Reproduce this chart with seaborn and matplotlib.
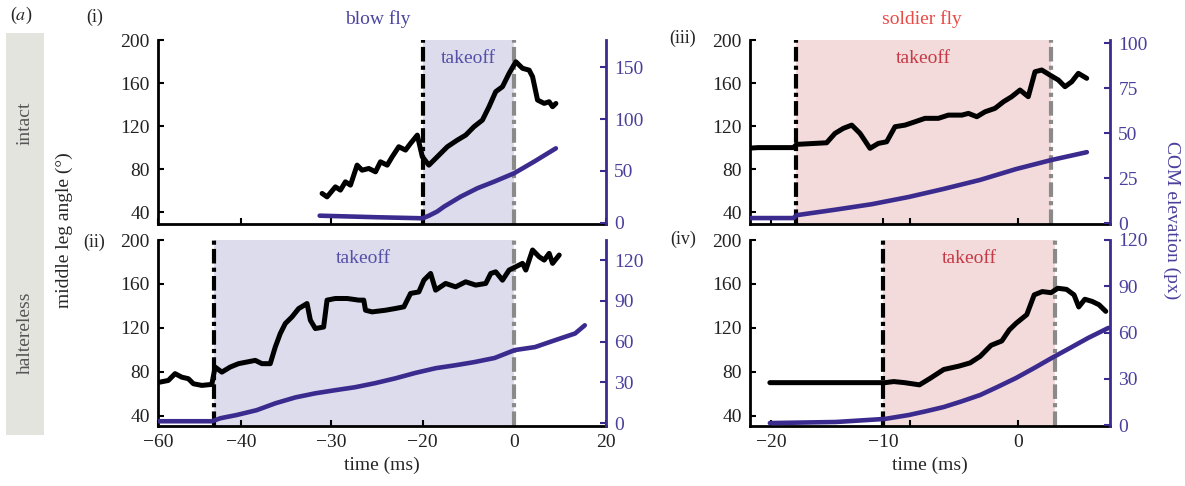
import numpy as np
import seaborn as sns
import matplotlib.pyplot as plt

# (i) blow fly, intact
t_i_angle = [-31.03, -30.48, -29.56, -29.01, -28.46, -27.91, -27.18, -26.63, -25.90, -25.16,
             -24.62, -23.88, -23.33, -22.61, -21.87, -21.32, -20.58, -20.03, -18.62, -16.77,
             -14.57, -12.37, -10.55, -8.73, -6.88, -5.43, -3.96, -2.48, -1.03, 0.43, 1.89,
             3.33, 4.07, 5.15, 6.59, 7.67, 8.41, 9.13]
angle_i = [57.4, 54.2, 63.5, 60.5, 68.2, 65.1, 83.7, 79, 80.6, 77.5, 86.8, 83.7, 91.5, 100.8,
           97.7, 103.9, 111.6, 91.5, 83.7, 91.5, 100.8, 107, 111.6, 119.4, 125.6, 138, 152,
           156.6, 169, 179.8, 173.7, 172, 165.9, 144.2, 141.1, 142.6, 138, 141]
t_i_com = [-31.3, -25.0, -20.0, -18.6, -16.8, -15.3, -11.65, -7.98, -4.33, 0.07, 4.41, 9.13]
com_i = [7, 5.5, 4.5, 7, 11, 15.7, 25.3, 33.4, 39.7, 47.8, 59, 71.8]

# (ii) blow fly, haltereless
t_ii_angle = [-60.0, -59.52, -57.52, -55.9, -54.29, -52.7, -51.49, -49.47, -47.06, -46.27,
              -44.65, -42.65, -40.65, -39.37, -38.44, -37.7, -36.78, -36.22, -35.67, -35.11,
              -34.37, -33.63, -32.7, -32.33, -31.78, -30.86, -30.48, -29.56, -28.27, -27.0,
              -26.45, -26.26, -25.53, -24.07, -22.97, -22.05, -21.32, -20.41, -19.71, -18.24,
              -17.14, -14.95, -12.75, -10.55, -8.35, -6.15, -5.05, -3.96, -2.48, -1.03, 0.43,
              1.89, 2.61, 4.07, 5.5, 6.59, 7.67, 8.41, 9.85]
angle_ii = [70.5, 70.5, 72, 78.2, 75, 73.6, 69, 67.5, 68.4, 84.2, 79.6, 84.2, 87.3, 88.8, 90.3,
            87.3, 87.3, 102.5, 114.7, 123.9, 129.9, 137.5, 142.1, 126.9, 119.3, 120.7, 145.2,
            146.7, 146.7, 145.2, 145.2, 136, 134.5, 136, 137.6, 139.1, 151.3, 152.7, 163.4,
            169.5, 154.3, 160.4, 157.3, 161.9, 158.9, 160.4, 169.5, 171, 163.4, 172.6, 175.6,
            178.7, 172.6, 190.9, 184.7, 181.7, 187.8, 178.7, 186.3]
t_ii_com = [-60.0, -47.0, -45.0, -41.2, -38.3, -36.2, -34.0, -31.8, -29.6, -27.4, -25.2, -23.0,
            -20.8, -17.1, -12.7, -8.6, -4.2, 0.2, 4.6, 8.9, 13.3, 15.4]
com_ii = [1.5, 1.5, 3.7, 6, 9.6, 14.7, 19, 22, 24.3, 26.5, 29.5, 33, 37, 40.5, 42.7, 45, 48,
          53.8, 56, 61, 66, 72]

# (iii) soldier fly, intact
t_iii_angle = [-21.9, -21.13, -18.0, -17.7, -15.03, -14.29, -13.54, -12.79, -12.05, -11.16,
               -10.42, -9.73, -9.11, -8.37, -7.63, -6.89, -5.9, -5.16, -4.16, -3.67, -3.05,
               -2.44, -1.7, -1.08, -0.47, 0.15, 0.76, 1.26, 1.76, 2.37, 2.99, 3.48, 3.98, 4.47,
               5.09]
angle_iii = [99.5, 100, 100, 103, 104.5, 113.2, 117.9, 120.9, 113.2, 99.3, 103.9, 105.4, 119.4,
             120.9, 124, 127.2, 127.2, 130.2, 130.2, 131.8, 128.7, 133.3, 136.5, 142.6, 147.3,
             153.5, 147.3, 170.5, 172.1, 167.4, 162.8, 156.6, 161.2, 169, 164.4]
t_iii_com = [-21.9, -18.0, -17.7, -14.2, -11.0, -8.1, -5.5, -2.8, -0.15, 2.45, 5.1]
com_iii = [2.8, 2.8, 4.4, 7.5, 10.5, 14.5, 19, 24, 30, 35, 39.4]

# (iv) soldier fly, haltereless
t_iv_angle = [-20.1, -9.85, -9.2, -8.4, -7.3, -6.5, -5.5, -4.4, -3.55, -2.8, -2.0, -1.2, -0.65,
              -0.15, 0.65, 1.2, 1.8, 2.45, 2.95, 3.6, 4.15, 4.5, 4.95, 5.5, 6.0, 6.5]
angle_iv = [70, 70, 71, 70, 68, 74, 82, 85, 88, 94, 104, 108, 118, 124, 132, 150, 153, 152,
            156, 155, 150, 139, 146, 144, 141, 135]
t_iv_com = [-20.1, -14.2, -9.85, -8.1, -6.8, -5.5, -4.2, -2.8, -1.5, -0.15, 1.2, 2.5, 3.9,
            5.2, 6.7]
com_iv = [1.3, 2, 4, 6.5, 9, 11.7, 15.3, 19.5, 24.8, 30.5, 37, 43.5, 50.2, 56.5, 63]

takeoff_start = [-20, -46.6, -17.8, -10]
takeoff_end = [0, 0, 2.44, 2.74]
panel_labels = ["(i)", "(ii)", "(iii)", "(iv)"]
species = ["blow fly", "soldier fly"]
conditions = ["intact", "haltereless"]

# tick labels are not evenly spaced in the original, so map them piecewise
left_ticks = [-60, -40, -30, -20, 0, 20]
left_pos = [158, 241, 331, 422, 513, 605]
right_ticks = [-20, -10, 0]
right_pos = [771, 883, 1018]


def piecewise(vals, pos):
    v = [vals[0] - 200] + vals + [vals[-1] + 200]
    s0 = (pos[1] - pos[0]) / (vals[1] - vals[0])
    s1 = (pos[-1] - pos[-2]) / (vals[-1] - vals[-2])
    p = [pos[0] - 200 * s0] + pos + [pos[-1] + 200 * s1]
    fwd = lambda x: np.interp(x, v, p)
    inv = lambda y: np.interp(y, p, v)
    return fwd, inv


sns.set_style("ticks")
plt.rcParams['font.family'] = ['Liberation Serif', 'DejaVu Serif']
plt.rcParams['mathtext.fontset'] = 'stix'
plt.rcParams['font.size'] = 14

PURPLE = '#3b2b8e'
PURPLE_TXT = '#4a3f9c'
BLUE_SHADE = '#dcdcec'
PINK_SHADE = '#f3dbdb'
W, H = 1185, 486

fig = plt.figure(figsize=(W / 100, H / 100), dpi=100)

specs = [
    # left px, right px, top px, bottom px
    (158, 606, 40, 224),
    (158, 606, 240, 426),
    (750, 1110, 40, 224),
    (750, 1110, 240, 426),
]
angle_t = [t_i_angle, t_ii_angle, t_iii_angle, t_iv_angle]
angles = [angle_i, angle_ii, angle_iii, angle_iv]
com_t = [t_i_com, t_ii_com, t_iii_com, t_iv_com]
coms = [com_i, com_ii, com_iii, com_iv]
ylims_l = [(29, 200), (30.5, 200), (29, 200), (30.5, 200)]
ylims_r = [(-1, 176), (-2, 134.7), (-0.5, 101.7), (-0.6, 120)]
rticks = [[0, 50, 100, 150], [0, 30, 60, 90, 120], [0, 25, 50, 75, 100], [0, 30, 60, 90, 120]]
label_pos = [(95, 17), (94, 242), (683, 38), (683, 239)]

for k in range(4):
    x0, x1, y0, y1 = specs[k]
    ax = fig.add_axes([x0 / W, 1 - y1 / H, (x1 - x0) / W, (y1 - y0) / H])
    left = k < 2
    if left:
        fwd, inv = piecewise(left_ticks, left_pos)
    else:
        fwd, inv = piecewise(right_ticks, right_pos)
    ax.set_xscale('function', functions=(fwd, inv))
    if left:
        ax.set_xlim(-60, 20)
        ax.set_xticks(left_ticks)
        ax.set_xticklabels([str(v).replace('-', '\u2212') for v in left_ticks])
        shade, tk_col = BLUE_SHADE, '#5650a8'
    else:
        ax.set_xlim(inv(750), inv(1110))
        ax.set_xticks([-20, -10, -8, 0])
        ax.set_xticklabels(['\u221220', '\u221210', '', '0'])
        shade, tk_col = PINK_SHADE, '#c53a46'

    a, b = takeoff_start[k], takeoff_end[k]
    ax.axvspan(a, b, color=shade, lw=0, zorder=0)
    ax.axvline(a, color='black', lw=3, dashes=(3.5, 1, 1, 1), zorder=2)
    ax.axvline(b, color='#8a8a8a', lw=3, dashes=(3.5, 1, 1, 1), zorder=2)
    mid = inv((fwd(a) + fwd(b)) / 2)
    ax.text(mid, 0.9, 'takeoff', color=tk_col, ha='center', va='center',
            transform=ax.get_xaxis_transform(), fontsize=14)

    sns.lineplot(x=angle_t[k], y=angles[k], ax=ax, color='black', lw=3.6,
                 estimator=None, sort=False, zorder=3)
    ax.set_ylim(*ylims_l[k])
    ax.set_yticks([40, 80, 120, 160, 200])
    ax.set_ylabel('')
    ax.set_xlabel('time (ms)' if k % 2 == 1 else '', labelpad=4)
    if k % 2 == 0:
        ax.tick_params(axis='x', labelbottom=False)
    ax.tick_params(direction='in', length=4, width=1.5, pad=6, labelsize=14,
                   colors='black', labelcolor='#222222')
    for s in ['top', 'right']:
        ax.spines[s].set_visible(False)
    for s in ['left', 'bottom']:
        ax.spines[s].set_linewidth(2)
        ax.spines[s].set_color('black')

    ax2 = ax.twinx()
    sns.lineplot(x=com_t[k], y=coms[k], ax=ax2, color=PURPLE, lw=3.3,
                 estimator=None, sort=False)
    ax2.set_ylim(*ylims_r[k])
    ax2.set_yticks(rticks[k])
    ax2.set_ylabel('')
    ax2.tick_params(axis='y', direction='in', length=4, width=1.5, pad=6,
                    colors=PURPLE, labelcolor=PURPLE_TXT, labelsize=14)
    for s in ['top', 'left', 'bottom']:
        ax2.spines[s].set_visible(False)
    ax2.spines['right'].set_color(PURPLE)
    ax2.spines['right'].set_linewidth(2)

    px, py = label_pos[k]
    fig.text(px / W, 1 - py / H, panel_labels[k], ha='center', va='center', fontsize=13)

fig.text(21 / W, 1 - 15 / H, '($a$)', ha='center', va='center', fontsize=13)
fig.text(378 / W, 1 - 19 / H, species[0], color='#4b45a2', ha='center', va='center', fontsize=14)
fig.text(922 / W, 1 - 19 / H, species[1], color='#ea4a45', ha='center', va='center', fontsize=14)

# grey side box with condition names
fig.patches.append(plt.Rectangle((6 / W, 1 - 435 / H), 38 / W, 402 / H, transform=fig.transFigure,
                                 color='#e4e4df', lw=0, zorder=0))
fig.text(25 / W, 1 - 123 / H, conditions[0], rotation=90, ha='center', va='center',
         color='#555555', fontsize=14)
fig.text(25 / W, 1 - 333 / H, conditions[1], rotation=90, ha='center', va='center',
         color='#555555', fontsize=14)

fig.text(64 / W, 1 - 230 / H, 'middle leg angle (\u00b0)', rotation=90, ha='center', va='center',
         fontsize=14)
fig.text(1172 / W, 1 - 220 / H, 'COM elevation (px)', rotation=270, ha='center', va='center',
         color=PURPLE_TXT, fontsize=14)

fig.savefig('out.png', dpi=100)
